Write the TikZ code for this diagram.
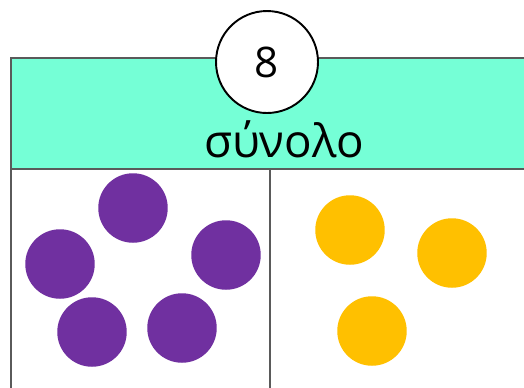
\documentclass[tikz,border=0pt]{standalone}
\usepackage{fontspec}
\setmainfont{Open Sans}
\usetikzlibrary{positioning}
\definecolor{bandteal}{HTML}{75FFD6}
\definecolor{dotpurple}{HTML}{7030A0}
\definecolor{dotyellow}{HTML}{FFC000}
\definecolor{edgegray}{HTML}{5A5A5A}
\tikzset{
  band/.style={rectangle, draw=edgegray, fill=bandteal, line width=1.1pt, anchor=north west, inner sep=0pt},
  setbox/.style={rectangle, draw=edgegray, fill=white, line width=1.1pt, anchor=north west, inner sep=0pt},
  total/.style={circle, draw=black, fill=white, line width=1.1pt, minimum size=2.04cm, inner sep=0pt},
  purpledot/.style={circle, fill=dotpurple, minimum size=1.39cm, inner sep=0pt},
  yellowdot/.style={circle, fill=dotyellow, minimum size=1.39cm, inner sep=0pt},
}

\begin{document}
\begin{tikzpicture}[x=0.02cm, y=-0.02cm]
  \clip (0,0) rectangle (524,387);
  \useasboundingbox (0,0) rectangle (524,387);
  % header band and the two parts
  \node[band, minimum width=10.6cm, minimum height=2.22cm] (band) at (10,57) {};
  \node[setbox, minimum width=5.18cm, minimum height=4.8cm] (left) at (10,168) {};
  \node[setbox, minimum width=5.5cm, minimum height=4.8cm] (right) at (269,168) {};
  \node[font=\fontsize{26}{30}\selectfont] (label) at (284,139) {σύνολο};
  \node[total, font=\fontsize{24}{28}\selectfont] (num) at (267,62) {8};
  % purple counters
  \node[purpledot] (p1) at (133,208) {};
  \node[purpledot] (p2) at (60,264) {};
  \node[purpledot] (p3) at (226,255) {};
  \node[purpledot] (p4) at (92,332) {};
  \node[purpledot] (p5) at (182,328) {};
  % yellow counters
  \node[yellowdot] (y1) at (350,230) {};
  \node[yellowdot] (y2) at (452,253) {};
  \node[yellowdot] (y3) at (372,331) {};
\end{tikzpicture}
\end{document}
